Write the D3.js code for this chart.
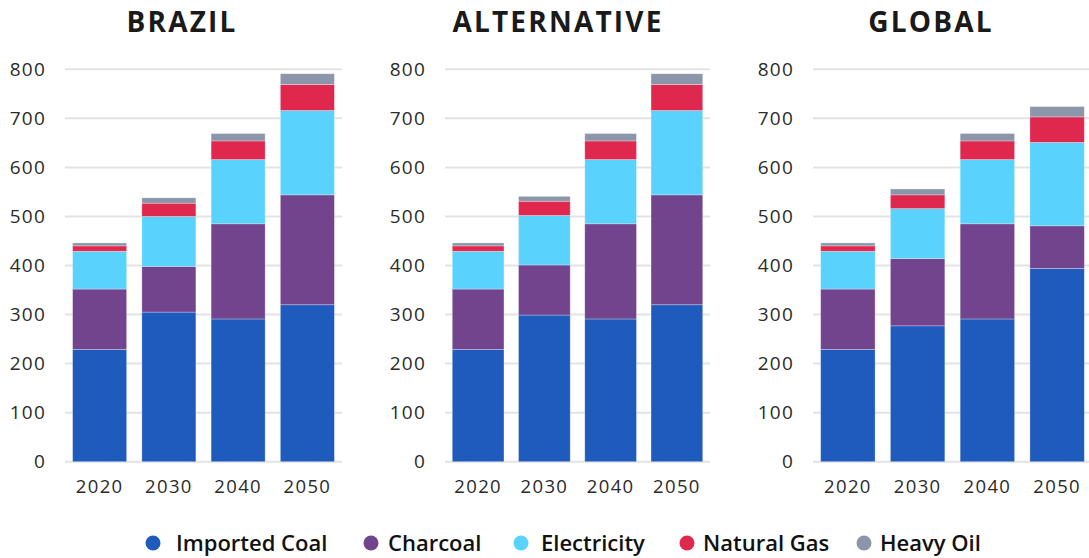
<!DOCTYPE html>
<html><head><meta charset="utf-8">
<script src="https://cdn.jsdelivr.net/npm/d3@7"></script>
<style>
body{margin:0;background:#fff;}
svg{display:block;font-family:"Open Sans","Noto Sans",sans-serif;}
</style></head>
<body>
<svg id="chart" width="1089" height="558"></svg>
<script>
const years = ["2020","2030","2040","2050"];
const seriesNames = ["Imported Coal","Charcoal","Electricity","Natural Gas","Heavy Oil"];
const colors = ["#1e5bbd","#72448e","#59d3fe","#e0284f","#8b96aa"];
const yTicks = [0,100,200,300,400,500,600,700,800];
const panelTitles = ["BRAZIL","ALTERNATIVE","GLOBAL"];

// values per scenario, per series (order of seriesNames), per year
const brazilCoal = [229,305,291,320];
const brazilCharcoal = [123,93,194,224];
const brazilElectricity = [77,102,131,172];
const brazilGas = [11,27,38,53];
const brazilOil = [6,11,15,22];

const altCoal = [229,299,291,320];
const altCharcoal = [123,102,194,224];
const altElectricity = [77,101,131,172];
const altGas = [11,29,38,53];
const altOil = [6,10,15,22];

const globalCoal = [229,277,291,394];
const globalCharcoal = [123,137,194,87];
const globalElectricity = [77,102,131,170];
const globalGas = [11,28,38,52];
const globalOil = [6,12,15,21];

const scenarios = [
  [brazilCoal,brazilCharcoal,brazilElectricity,brazilGas,brazilOil],
  [altCoal,altCharcoal,altElectricity,altGas,altOil],
  [globalCoal,globalCharcoal,globalElectricity,globalGas,globalOil]
];

const svg = d3.select("#chart");
const y = d3.scaleLinear().domain([0,800]).range([461.7,69.3]);

const panels = [
  {x0:65, x1:342, titleX:182},
  {x0:445, x1:710, titleX:558},
  {x0:813, x1:1092, titleX:931}
];

panels.forEach((p,pi)=>{
  const g = svg.append("g");
  const x = d3.scaleBand().domain(years).range([p.x0,p.x1]).paddingInner(0.22).paddingOuter(0.11);
  g.append("g").selectAll("line").data(yTicks).join("line")
    .attr("x1",p.x0).attr("x2",p.x1)
    .attr("y1",d=>y(d)).attr("y2",d=>y(d))
    .attr("stroke","#e3e3e3").attr("stroke-width",2);
  const yAxis = d3.axisLeft(y).tickValues(yTicks).tickSize(0).tickPadding(19).tickFormat(d3.format("d"));
  const ya = g.append("g").attr("transform",`translate(${p.x0},0)`).call(yAxis);
  ya.select(".domain").remove();
  ya.selectAll("text").attr("font-size",19).attr("fill","#2b2b2b").attr("letter-spacing","1.2px")
    .attr("font-family","'Open Sans',sans-serif");
  const xAxis = d3.axisBottom(x).tickSize(0).tickPadding(18);
  const xa = g.append("g").attr("transform",`translate(0,${y(0)})`).call(xAxis);
  xa.select(".domain").remove();
  xa.selectAll("text").attr("font-size",18.5).attr("fill","#2b2b2b").attr("letter-spacing","1.4px")
    .attr("font-family","'Open Sans',sans-serif");
  const rows = years.map((yr,i)=>{
    const o = {year:yr};
    seriesNames.forEach((s,si)=>{o[s]=scenarios[pi][si][i];});
    return o;
  });
  const stack = d3.stack().keys(seriesNames)(rows);
  g.append("g").selectAll("g").data(stack).join("g")
    .attr("fill",(d,i)=>colors[i])
    .selectAll("rect").data(d=>d).join("rect")
    .attr("x",d=>x(d.data.year))
    .attr("width",x.bandwidth())
    .attr("y",d=>y(d[1]))
    .attr("height",d=>y(d[0])-y(d[1]))
    .attr("stroke","rgba(255,255,255,0.35)").attr("stroke-width",0.8);
  svg.append("text").attr("x",p.titleX).attr("y",32).attr("text-anchor","middle")
    .attr("font-size",28).attr("font-weight",700).attr("letter-spacing","2.2px")
    .attr("fill","#1a1a1a").text(panelTitles[pi]);
});

// legend
const legendCircleX = [153,371,521,687,864];
const legendTextX = [176,388,541,703,880];
const lg = svg.append("g");
seriesNames.forEach((s,i)=>{
  lg.append("circle").attr("cx",legendCircleX[i]).attr("cy",543).attr("r",7.5).attr("fill",colors[i]);
  lg.append("text").attr("x",legendTextX[i]).attr("y",550.7).attr("font-size",22).attr("font-weight",600)
    .attr("fill","#111").text(s);
});
</script>
</body></html>
